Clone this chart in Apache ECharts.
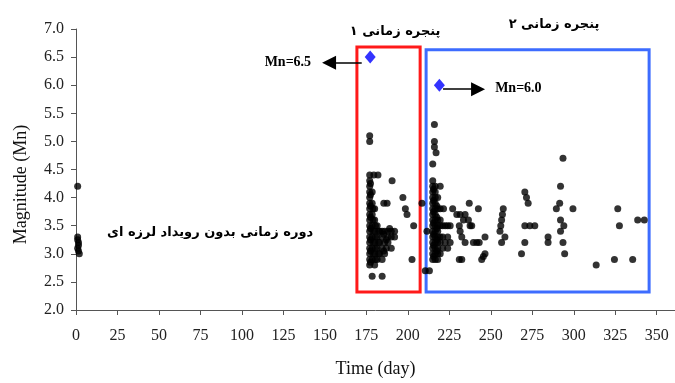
<!DOCTYPE html>
<html>
<head>
<meta charset="utf-8">
<script src="https://cdn.jsdelivr.net/npm/echarts@6/dist/echarts.min.js"></script>
<style>
html,body{margin:0;padding:0;background:#fff;}
#main{width:675px;height:383px;}
</style>
</head>
<body>
<div id="main"></div>
<script>
// ---- data (day, magnitude Mn) ----
const quietPeriod = [[1,4.2],[1,3.3],[1,3.25],[1.5,3.2],[1.5,3.15],[1,3.1],[1.5,3.05],[2,3.0]];

const window1Events = [
  [177,5.1],[177,5.0],
  [177,4.4],[179.5,4.4],[182,4.4],[190.5,4.3],
  [177,4.3],[177,4.2],[177,4.1],[177,4.0],[177,3.9],[177,3.8],[177,3.7],[177,3.6],[177,3.5],[177,3.4],
  [177,3.3],[177,3.2],[177,3.1],[177,3.0],[177,2.9],[177,2.8],
  [177.5,4.25],[177.5,4.05],[177.5,3.85],[177.5,3.65],[177.5,3.45],[177.5,3.25],[177.5,3.05],[177.5,2.85],
  [178.5,4.1],[178.5,3.9],[178.5,3.7],[178.5,3.5],[178.5,3.3],[178.5,3.1],[178.5,2.9],
  [179,3.8],[179,3.6],[179,3.4],[179,3.2],[179,3.0],
  [180,3.8],[180,3.6],[180,3.4],[180,3.2],[180,3.0],[180,2.8],
  [180.5,3.5],[180.5,3.3],[180.5,3.1],[180.5,2.9],
  [181.5,3.5],[181.5,3.3],[181.5,3.1],[181.5,2.9],
  [182.5,3.4],[182.5,3.2],[182.5,3.0],
  [183,3.4],[183,3.2],[183,3.0],
  [184.5,3.4],[184.5,3.3],[184.5,3.1],[184.5,2.9],
  [185.5,3.35],[185.5,3.05],
  [186,3.4],[186,3.2],[186,3.0],
  [187,3.25],[187,3.1],
  [188,3.4],[188,3.3],[188,3.2],
  [189,3.45],
  [190,3.4],[190,3.3],[190,3.1],
  [192,3.4],[192,3.3],
  [185.5,3.9],[187.5,3.9],
  [197,4.0],[198.5,3.8],[199.5,3.7],
  [203.5,3.5],[202.5,2.9],
  [178.5,2.6],[184.5,2.6],
  [208.5,3.9],[211.5,3.4]
];

const window2Events = [
  [216,5.3],[216,5.0],[216,4.9],[217,4.8],[215,4.6],
  [215,4.3],[215,4.2],[215,4.1],[215,4.0],[215,3.9],[215,3.8],[215,3.7],[215,3.6],[215,3.5],[215,3.4],
  [215,3.3],[215,3.2],[215,3.1],[215,3.0],[215,2.9],
  [215.5,4.15],[215.5,3.95],[215.5,3.75],[215.5,3.55],[215.5,3.35],[215.5,3.15],[215.5,2.95],
  [216.5,4.2],[216.5,4.1],[216.5,4.0],[216.5,3.9],[216.5,3.8],[216.5,3.7],[216.5,3.6],[216.5,3.5],
  [216.5,3.4],[216.5,3.3],[216.5,3.2],[216.5,3.1],[216.5,3.0],[216.5,2.9],
  [217.5,3.85],[217.5,3.65],[217.5,3.45],[217.5,3.25],[217.5,3.05],
  [218,4.0],[218,3.8],[218,3.6],[218,3.5],[218,3.4],[218,3.3],[218,3.2],[218,3.1],[218,3.0],[218,2.9],
  [219.5,4.2],[219.5,3.8],[219.5,3.6],[219.5,3.5],[219.5,3.3],[219.5,3.2],[219.5,3.0],
  [221.5,3.8],[221,3.5],[221,3.3],[221,3.1],
  [222.5,3.5],[222.5,3.2],
  [224,3.5],[224,3.3],[224,3.1],
  [225.5,3.5],[225.5,3.2],
  [227,3.8],
  [210.5,2.7],[213,2.7],
  [229.5,3.7],[231.5,3.7],[234.5,3.7],[233.5,3.6],[236.5,3.6],[231,3.5],[237.5,3.5],[238.5,3.5],
  [231.5,3.4],[232.5,3.3],[234.5,3.2],[239.5,3.2],[241.5,3.2],[243,3.2],
  [231,2.9],[232.5,2.9],[244.5,2.9],[245.5,2.95],[246.5,3.0],[246.5,3.3],
  [237,3.9],[242.5,3.8],
  [257.5,3.8],[257,3.7],[256.5,3.6],[256,3.5],[255.5,3.4],[258.5,3.3],[256.5,3.2],
  [270.5,4.1],[271.5,4.0],[272.5,3.9],
  [270.5,3.5],[273.5,3.5],[276.5,3.5],[270.5,3.2],[268.5,3.0],
  [284.5,3.3],[284.5,3.2],
  [293.5,4.7],[292,4.2],[291.5,3.9],[289.5,3.8],[299.5,3.8],[292,3.6],[294,3.5],[292,3.4],[293.5,3.2],[294.5,3.0],
  [313.5,2.8],[324.5,2.9],[335.5,2.9],[326.5,3.8],[327.5,3.5],[338.5,3.6],[342.5,3.6]
];

const mainShocks = [[177.3,6.5],[219,6.0]];

// time windows (day range, Mn range)
const window1Range = [[169.3,6.68],[207.4,2.32]];
const window2Range = [[211,6.63],[345.4,2.32]];

// arrows: [from, to]
const arrow65 = [[172.2,6.40],[152.5,6.40]];
const arrow60 = [[221.2,5.93],[242.3,5.93]];

const xTicks = [0,25,50,75,100,125,150,175,200,225,250,275,300,325,350];
const yTicks = ['2.0','2.5','3.0','3.5','4.0','4.5','5.0','5.5','6.0','6.5','7.0'];

const labelMn65 = 'Mn=6.5';
const labelMn60 = 'Mn=6.0';
const labelWin1 = 'پنجره زمانی ۱';
const labelWin2 = 'پنجره زمانی ۲';
const labelQuiet = 'دوره زمانی بدون رویداد لرزه ای';

const serif = '"Liberation Serif","Times New Roman",serif';
const persian = '"DejaVu Sans",sans-serif';

const chart = echarts.init(document.getElementById('main'));
const option = {
  backgroundColor: '#fff',
  animation: false,
  grid: {left: 76, right: 0, top: 29, bottom: 70},
  xAxis: {
    type: 'value', min: 0, max: 361, interval: 25,
    name: 'Time (day)', nameLocation: 'middle', nameGap: 50,
    nameTextStyle: {fontFamily: serif, fontSize: 18, color: '#111'},
    axisLine: {lineStyle: {color: '#555', width: 1}},
    axisTick: {show: true, length: 5, lineStyle: {color: '#555'}},
    axisLabel: {fontFamily: serif, fontSize: 16, color: '#222', margin: 18,
      showMaxLabel: false,
      formatter: v => xTicks.indexOf(v) >= 0 ? String(v) : ''},
    splitLine: {show: false}
  },
  yAxis: {
    type: 'value', min: 2, max: 7, interval: 0.5,
    name: 'Magnitude (Mn)', nameLocation: 'middle', nameGap: 46,
    nameTextStyle: {fontFamily: serif, fontSize: 18, color: '#111', padding: [0, 30, 0, 0]},
    axisLine: {show: true, lineStyle: {color: '#555', width: 1}},
    axisTick: {show: true, length: 5, lineStyle: {color: '#555'}},
    axisLabel: {fontFamily: serif, fontSize: 16, color: '#222', margin: 12,
      formatter: v => yTicks[Math.round((v - 2) * 2)]},
    splitLine: {show: false}
  },
  series: [
    {
      type: 'scatter', name: 'quiet', data: quietPeriod,
      symbol: 'circle', symbolSize: 7, itemStyle: {color: '#000'}, z: 3
    },
    {
      type: 'scatter', name: 'window1', data: window1Events,
      symbol: 'circle', symbolSize: 7, itemStyle: {color: '#000'}, z: 3,
      markArea: {
        silent: true,
        itemStyle: {color: 'rgba(0,0,0,0)', borderColor: '#ff1a1a', borderWidth: 3},
        data: [[{coord: window1Range[0]}, {coord: window1Range[1]}]]
      }
    },
    {
      type: 'scatter', name: 'window2', data: window2Events,
      symbol: 'circle', symbolSize: 7, itemStyle: {color: '#000'}, z: 3,
      markArea: {
        silent: true,
        itemStyle: {color: 'rgba(0,0,0,0)', borderColor: '#3d6cff', borderWidth: 3},
        data: [[{coord: window2Range[0]}, {coord: window2Range[1]}]]
      }
    },
    {
      type: 'scatter', name: 'mainshock', data: mainShocks,
      symbol: 'diamond', symbolSize: [11, 13], itemStyle: {color: '#0000ff'}, z: 4,
      markLine: {
        silent: true, animation: false,
        symbol: ['none', 'triangle'], symbolSize: 14,
        lineStyle: {color: '#000', width: 1.5, type: 'solid'},
        itemStyle: {color: '#000'},
        label: {show: false},
        data: [
          [{coord: arrow65[0]}, {coord: arrow65[1]}],
          [{coord: arrow60[0]}, {coord: arrow60[1]}]
        ]
      }
    }
  ]
};
chart.setOption(option);

// annotation anchors in data coordinates
const annotations = [
  {text: labelMn65, at: [141.7, 6.40], align: 'right', font: 'bold 14px ' + serif},
  {text: labelMn60, at: [252.6, 5.94], align: 'left', font: 'bold 14px ' + serif},
  {text: labelWin1, at: [192.3, 6.96], align: 'center', font: 'bold 13px ' + persian},
  {text: labelWin2, at: [288.1, 7.07], align: 'center', font: 'bold 13px ' + persian},
  {text: labelQuiet, at: [80.8, 3.38], align: 'center', font: 'bold 13px ' + persian}
];
const g = annotations.map(a => {
  const p = chart.convertToPixel({gridIndex: 0}, a.at);
  return {
    type: 'text', x: p[0], y: p[1], z: 10,
    style: {text: a.text, font: a.font, fill: '#000', align: a.align, verticalAlign: 'middle'}
  };
});
chart.setOption({graphic: g});
</script>
</body>
</html>
